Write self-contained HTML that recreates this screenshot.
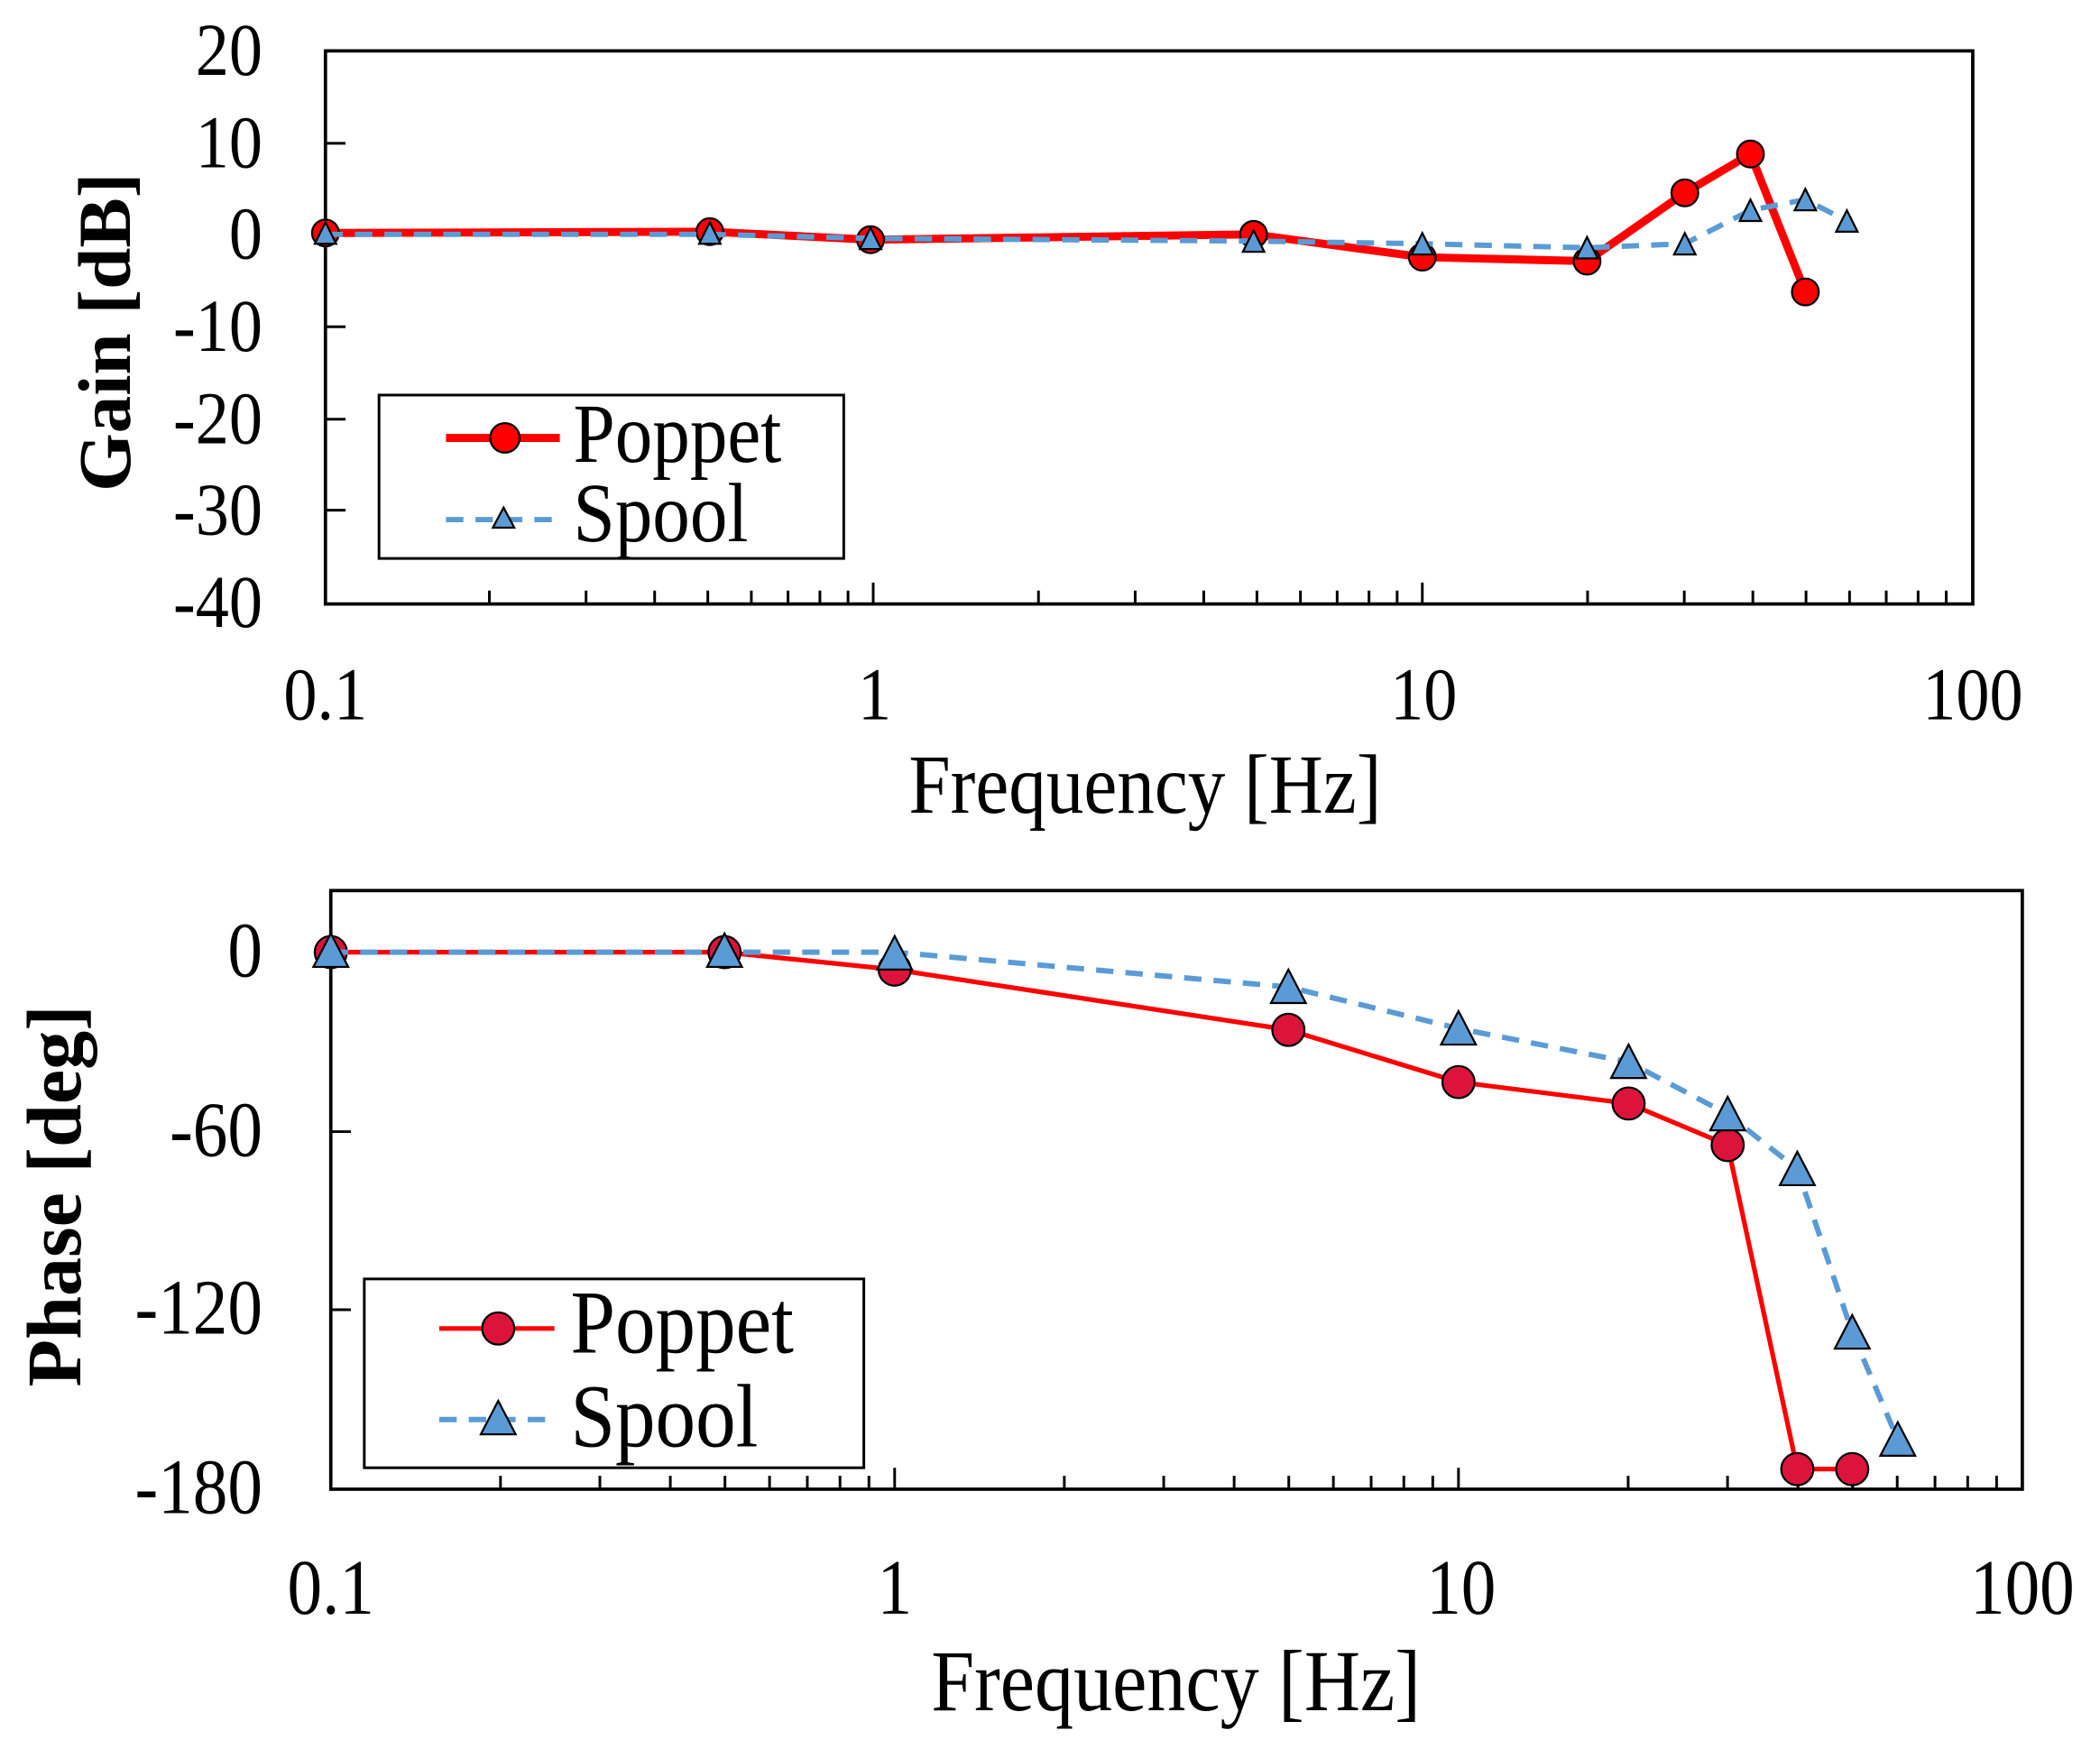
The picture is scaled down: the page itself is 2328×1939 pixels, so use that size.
<!DOCTYPE html>
<html><head><meta charset="utf-8"><style>html,body{margin:0;padding:0;background:#fff}svg{display:block}</style></head>
<body>
<svg xmlns="http://www.w3.org/2000/svg" width="2328" height="1939" viewBox="0 0 1568 1306" font-family="'Liberation Serif',serif">
<rect width="1568" height="1306" fill="#fff"/>
<!-- TOP PLOT -->
<rect x="243" y="38" width="1230" height="413" fill="none" stroke="#000" stroke-width="2.5"/>
<g font-size="50" text-anchor="end" fill="#000">
<g transform="translate(196,56) scale(1,1.12)"><text>20</text></g>
<g transform="translate(196,125) scale(1,1.12)"><text>10</text></g>
<g transform="translate(196,193) scale(1,1.12)"><text>0</text></g>
<g transform="translate(196,262) scale(1,1.12)"><text>-10</text></g>
<g transform="translate(196,331) scale(1,1.12)"><text>-20</text></g>
<g transform="translate(196,399) scale(1,1.12)"><text>-30</text></g>
<g transform="translate(196,468) scale(1,1.12)"><text>-40</text></g>
</g>
<g font-size="50" text-anchor="middle">
<g transform="translate(243,537) scale(1,1.12)"><text>0.1</text></g>
<g transform="translate(653,537) scale(1,1.12)"><text>1</text></g>
<g transform="translate(1063,537) scale(1,1.12)"><text>10</text></g>
<g transform="translate(1473,537) scale(1,1.12)"><text>100</text></g>
<g transform="translate(855,607) scale(1,1.12)"><text font-size="56">Frequency [Hz]</text></g>
</g>
<text transform="translate(97,248) rotate(-90)" font-size="56" text-anchor="middle" font-weight="bold">Gain [dB]</text>
<g stroke="#000" stroke-width="2">
<line x1="243" y1="107" x2="258" y2="107"/><line x1="243" y1="175" x2="258" y2="175"/><line x1="243" y1="244" x2="258" y2="244"/><line x1="243" y1="313" x2="258" y2="313"/><line x1="243" y1="381" x2="258" y2="381"/>
<path d="M365.4 451v-10M437.6 451v-10M488.8 451v-10M528.5 451v-10M561 451v-10M588.4 451v-10M612.2 451v-10M633.2 451v-10M652 451v-16M775.4 451v-10M847.6 451v-10M898.8 451v-10M938.5 451v-10M971 451v-10M998.4 451v-10M1022.2 451v-10M1043.2 451v-10M1062 451v-16M1185.4 451v-10M1257.6 451v-10M1308.8 451v-10M1348.5 451v-10M1381 451v-10M1408.4 451v-10M1432.2 451v-10M1453.2 451v-10"/>
</g>
<polyline fill="none" stroke="#ff0000" stroke-width="6" stroke-linejoin="round" points="243,174 530,173 650,179 936,175 1062,192 1185,195 1258,144 1307,115 1348,218"/>
<g fill="#ff0000" stroke="#000" stroke-width="1.5">
<circle cx="243" cy="174" r="10"/><circle cx="530" cy="173" r="10"/><circle cx="650" cy="179" r="10"/><circle cx="936" cy="175" r="10"/><circle cx="1062" cy="192" r="10"/><circle cx="1185" cy="195" r="10"/><circle cx="1258" cy="144" r="10"/><circle cx="1307" cy="115" r="10"/><circle cx="1348" cy="218" r="10"/>
</g>
<polyline fill="none" stroke="#5b9bd5" stroke-width="4" stroke-dasharray="13 9" points="243,175 530,175 650,178 936,180 1062,182 1185,185 1258,182 1307,157 1348,149 1379,165"/>
<g fill="#5b9bd5" stroke="#000" stroke-width="1.5">
<path d="M243 166l8 16h-16z"/><path d="M530 166l8 16h-16z"/><path d="M650 170l8 16h-16z"/><path d="M936 172l8 16h-16z"/><path d="M1062 174l8 16h-16z"/><path d="M1185 177l8 16h-16z"/><path d="M1258 174l8 16h-16z"/><path d="M1307 149l8 16h-16z"/><path d="M1348 141l8 16h-16z"/><path d="M1379 157l8 16h-16z"/>
</g>
<rect x="283" y="295" width="347" height="122" fill="#fff" stroke="#000" stroke-width="2"/>
<line x1="333" y1="327" x2="418" y2="327" stroke="#ff0000" stroke-width="6"/>
<circle cx="377" cy="327" r="11" fill="#ff0000" stroke="#000" stroke-width="1.5"/>
<g transform="translate(428,345) scale(1,1.12)"><text font-size="56">Poppet</text></g>
<line x1="333" y1="388" x2="418" y2="388" stroke="#5b9bd5" stroke-width="4" stroke-dasharray="13 9"/>
<path d="M376 379l8 15h-16z" fill="#5b9bd5" stroke="#000" stroke-width="1.5"/>
<g transform="translate(428,404) scale(1,1.12)"><text font-size="56">Spool</text></g>

<!-- BOTTOM PLOT -->
<rect x="247" y="665" width="1263" height="447" fill="none" stroke="#000" stroke-width="2.5"/>
<g stroke="#000" stroke-width="2">
<line x1="247" y1="845" x2="262" y2="845"/><line x1="247" y1="978" x2="262" y2="978"/>
<path d="M373.7 1112v-10M447.9 1112v-10M500.5 1112v-10M541.3 1112v-10M574.6 1112v-10M602.8 1112v-10M627.2 1112v-10M648.8 1112v-10M668 1112v-16M794.7 1112v-10M868.9 1112v-10M921.5 1112v-10M962.3 1112v-10M995.6 1112v-10M1023.8 1112v-10M1048.2 1112v-10M1069.8 1112v-10M1089 1112v-16M1215.7 1112v-10M1289.9 1112v-10M1342.5 1112v-10M1383.3 1112v-10M1416.6 1112v-10M1444.8 1112v-10M1469.2 1112v-10M1490.8 1112v-10"/>
</g>
<g font-size="52" text-anchor="end">
<g transform="translate(196,729) scale(1,1.12)"><text>0</text></g>
<g transform="translate(196,863) scale(1,1.12)"><text>-60</text></g>
<g transform="translate(196,996) scale(1,1.12)"><text>-120</text></g>
<g transform="translate(196,1130) scale(1,1.12)"><text>-180</text></g>
</g>
<g font-size="52" text-anchor="middle">
<g transform="translate(247,1205) scale(1,1.12)"><text>0.1</text></g>
<g transform="translate(668,1205) scale(1,1.12)"><text>1</text></g>
<g transform="translate(1091,1205) scale(1,1.12)"><text>10</text></g>
<g transform="translate(1510,1205) scale(1,1.12)"><text>100</text></g>
<g transform="translate(878,1277) scale(1,1.12)"><text font-size="58">Frequency [Hz]</text></g>
</g>
<text transform="translate(60,893) rotate(-90)" font-size="58" text-anchor="middle" font-weight="bold">Phase [deg]</text>
<polyline fill="none" stroke="#ff0000" stroke-width="3.5" stroke-linejoin="round" points="247,711 541,711 668,724 962,769 1089,808 1216,824 1290,855 1342,1097 1383,1097"/>
<g fill="#dc143c" stroke="#000" stroke-width="1.5">
<circle cx="247" cy="711" r="12"/><circle cx="541" cy="711" r="12"/><circle cx="668" cy="724" r="12"/><circle cx="962" cy="769" r="12"/><circle cx="1089" cy="808" r="12"/><circle cx="1216" cy="824" r="12"/><circle cx="1290" cy="855" r="12"/><circle cx="1342" cy="1097" r="12"/><circle cx="1383" cy="1097" r="12"/>
</g>
<polyline fill="none" stroke="#5b9bd5" stroke-width="4" stroke-dasharray="13 9" points="247,711 541,711 668,711 962,737 1089,768 1216,793 1290,832 1342,873 1383,995 1417,1075"/>
<g fill="#5b9bd5" stroke="#000" stroke-width="1.5">
<path d="M247 697l13 25h-26z"/><path d="M541 697l13 25h-26z"/><path d="M668 699l13 25h-26z"/><path d="M962 724l13 25h-26z"/><path d="M1089 755l13 25h-26z"/><path d="M1216 780l13 25h-26z"/><path d="M1290 819l13 25h-26z"/><path d="M1342 860l13 25h-26z"/><path d="M1383 982l13 25h-26z"/><path d="M1417 1062l13 25h-26z"/>
</g>
<rect x="272" y="955" width="373" height="141" fill="#fff" stroke="#000" stroke-width="2"/>
<line x1="328" y1="992" x2="414" y2="992" stroke="#ff0000" stroke-width="3.5"/>
<circle cx="372" cy="992" r="12" fill="#dc143c" stroke="#000" stroke-width="1.5"/>
<g transform="translate(426,1010) scale(1,1.12)"><text font-size="60">Poppet</text></g>
<line x1="328" y1="1060" x2="414" y2="1060" stroke="#5b9bd5" stroke-width="4" stroke-dasharray="13 9"/>
<path d="M372 1046l13 25h-26z" fill="#5b9bd5" stroke="#000" stroke-width="1.5"/>
<g transform="translate(426,1080) scale(1,1.12)"><text font-size="60">Spool</text></g>
</svg>
</body></html>
